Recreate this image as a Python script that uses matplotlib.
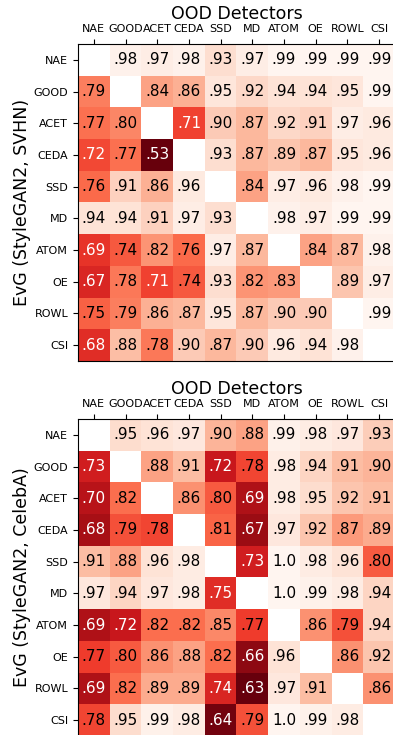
import numpy as np
import matplotlib.pyplot as plt

detectors = ["NAE", "GOOD", "ACET", "CEDA", "SSD", "MD", "ATOM", "OE", "ROWL", "CSI"]
nan = np.nan

# EvG (StyleGAN2, SVHN)
svhn = [
    [nan, .98, .97, .98, .93, .97, .99, .99, .99, .99],
    [.79, nan, .84, .86, .95, .92, .94, .94, .95, .99],
    [.77, .80, nan, .71, .90, .87, .92, .91, .97, .96],
    [.72, .77, .53, nan, .93, .87, .89, .87, .95, .96],
    [.76, .91, .86, .96, nan, .84, .97, .96, .98, .99],
    [.94, .94, .91, .97, .93, nan, .98, .97, .99, .99],
    [.69, .74, .82, .76, .97, .87, nan, .84, .87, .98],
    [.67, .78, .71, .74, .93, .82, .83, nan, .89, .97],
    [.75, .79, .86, .87, .95, .87, .90, .90, nan, .99],
    [.68, .88, .78, .90, .87, .90, .96, .94, .98, nan],
]

# EvG (StyleGAN2, CelebA)
celeba = [
    [nan, .95, .96, .97, .90, .88, .99, .98, .97, .93],
    [.73, nan, .88, .91, .72, .78, .98, .94, .91, .90],
    [.70, .82, nan, .86, .80, .69, .98, .95, .92, .91],
    [.68, .79, .78, nan, .81, .67, .97, .92, .87, .89],
    [.91, .88, .96, .98, nan, .73, 1.0, .98, .96, .80],
    [.97, .94, .97, .98, .75, nan, 1.0, .99, .98, .94],
    [.69, .72, .82, .82, .85, .77, nan, .86, .79, .94],
    [.77, .80, .86, .88, .82, .66, .96, nan, .86, .92],
    [.69, .82, .89, .89, .74, .63, .97, .91, nan, .86],
    [.78, .95, .99, .98, .64, .79, 1.0, .99, .98, nan],
]

panels = [("EvG (StyleGAN2, SVHN)", svhn, 0.73), ("EvG (StyleGAN2, CelebA)", celeba, 0.76)]


def fmt(v):
    if v >= 1.0:
        return "1.0"
    return ("%.2f" % v)[1:]


fig = plt.figure(figsize=(3.93, 7.35), dpi=100)
W, H = 393, 735
positions = [(78, 44), (78, 419)]  # left, top in pixels
side = 317

for (ylabel, data, thr), (px, py) in zip(panels, positions):
    ax = fig.add_axes([px / W, (H - py - side) / H, side / W, side / H])
    arr = np.array(data, dtype=float)
    ax.imshow(arr, cmap="Reds_r", vmin=np.nanmin(arr), vmax=np.nanmax(arr), aspect="auto")
    n = len(detectors)
    for i in range(n):
        for j in range(n):
            v = arr[i, j]
            if np.isnan(v):
                continue
            ax.text(j, i, fmt(v), ha="center", va="center", fontsize=11,
                    color="white" if v < thr else "black")
    ax.set_xticks(range(n))
    ax.set_yticks(range(n))
    ax.set_xticklabels(detectors, fontsize=8)
    ax.set_yticklabels(detectors, fontsize=8)
    ax.xaxis.tick_top()
    ax.xaxis.set_label_position("top")
    ax.set_xlabel("OOD Detectors", fontsize=12.5, labelpad=3.5)
    ax.set_ylabel(ylabel, fontsize=12.5, labelpad=2)

fig.savefig("out.png", dpi=100)
